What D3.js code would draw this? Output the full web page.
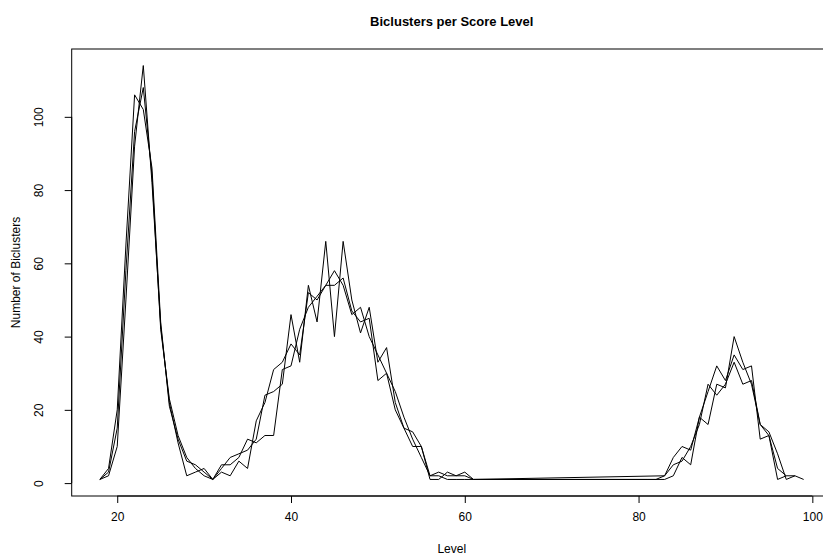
<!DOCTYPE html>
<html lang="en">

<head>
    <meta charset="UTF-8">
    <title>Biclusters per Score Level</title>
    <script src="https://cdn.jsdelivr.net/npm/d3@7"></script>
    <style>
        body {
            margin: 0;
            background: #fff;
        }

        svg text {
            font-family: "Liberation Sans", Arial, sans-serif;
            fill: #000;
        }
    </style>
</head>

<body>
    <script>
        // three runs, values
        const levelsA = [18, 19, 20, 21, 22, 23, 24, 25, 26, 27, 28, 29, 30, 31, 32, 33, 34, 35, 36, 37, 38, 39, 40, 41, 42, 43, 44, 45, 46, 47, 48, 49, 50, 51, 52, 53, 54, 55, 56, 57, 58, 59, 60, 61, 62, 83, 84, 85, 86, 87, 88, 89, 90, 91, 92, 93, 94, 95, 96, 97, 98, 99];
        const countsA = [1, 2, 10, 50, 92, 114, 82, 43, 22, 11, 2, 3, 4, 1, 4, 7, 8, 9, 12, 24, 25, 27, 46, 33, 54, 44, 66, 40, 66, 50, 41, 48, 33, 37, 22, 15, 14, 10, 2, 3, 2, 2, 3, 1, 1, 1, 2, 7, 5, 18, 16, 27, 26, 40, 33, 27, 16, 13, 1, 2, 2, 1];

        const levelsB = [18, 19, 20, 21, 22, 23, 24, 25, 26, 27, 28, 29, 30, 31, 32, 33, 34, 35, 36, 37, 38, 39, 40, 41, 42, 43, 44, 45, 46, 47, 48, 49, 50, 51, 52, 53, 54, 55, 56, 57, 58, 59, 60, 61, 83, 84, 85, 86, 87, 88, 89, 90, 91, 92, 93, 94, 95, 96, 97];
        const countsB = [1, 4, 20, 65, 106, 102, 86, 44, 21, 12, 6, 5, 3, 1, 5, 5, 7, 12, 11, 13, 13, 31, 32, 42, 48, 51, 54, 54, 56, 47, 44, 45, 28, 30, 20, 15, 10, 10, 1, 1, 3, 2, 2, 1, 2, 7, 10, 9, 18, 25, 32, 28, 35, 31, 32, 12, 13, 4, 2];

        const levelsC = [18, 19, 20, 21, 22, 23, 24, 25, 26, 27, 28, 29, 30, 31, 32, 33, 34, 35, 36, 37, 38, 39, 40, 41, 42, 43, 44, 45, 46, 47, 48, 49, 50, 51, 52, 53, 54, 55, 56, 57, 58, 59, 60, 61, 81, 82, 83, 84, 85, 86, 87, 88, 89, 90, 91, 92, 93, 94, 95, 96, 97, 98];
        const countsC = [1, 3, 15, 58, 96, 108, 84, 42, 23, 13, 7, 4, 2, 1, 3, 2, 6, 4, 17, 22, 31, 33, 38, 35, 52, 50, 54, 58, 54, 46, 48, 40, 35, 30, 25, 18, 12, 7, 2, 2, 1, 1, 1, 1, 1, 1, 2, 5, 6, 10, 16, 27, 24, 27, 33, 27, 28, 16, 14, 8, 1, 2];

        const xTicks = [20, 40, 60, 80, 100];
        const yTicks = [0, 20, 40, 60, 80, 100];

        const width = 823;
        const height = 556;
        const plotLeft = 71.7, plotRight = 831.8, plotTop = 49, plotBottom = 496;

        const series = [
            levelsA.map((l, i) => [l, countsA[i]]),
            levelsB.map((l, i) => [l, countsB[i]]),
            levelsC.map((l, i) => [l, countsC[i]])
        ];

        // R style 4% padding around the data range
        const allX = series.flat().map(d => d[0]);
        const allY = series.flat().map(d => d[1]);
        const [x0, x1] = d3.extent(allX);
        const [y0, y1] = d3.extent(allY);
        const padX = (x1 - x0) * 0.04, padY = (y1 - y0) * 0.04;

        const x = d3.scaleLinear().domain([x0 - padX, x1 + padX]).range([plotLeft, plotRight]);
        const y = d3.scaleLinear().domain([y0 - padY, y1 + padY]).range([plotBottom, plotTop]);

        const svg = d3.select("body").append("svg")
            .attr("width", width).attr("height", height);

        const line = d3.line().x(d => x(d[0])).y(d => y(d[1]));

        svg.append("g")
            .selectAll("path")
            .data(series)
            .join("path")
            .attr("d", line)
            .attr("fill", "none")
            .attr("stroke", "#000")
            .attr("stroke-width", 1);

        // box
        svg.append("rect")
            .attr("x", plotLeft).attr("y", plotTop)
            .attr("width", plotRight - plotLeft).attr("height", plotBottom - plotTop)
            .attr("fill", "none").attr("stroke", "#000").attr("stroke-width", 1);

        const xAxis = svg.append("g")
            .attr("transform", `translate(0,${plotBottom})`)
            .call(d3.axisBottom(x).tickValues(xTicks).tickSize(7).tickPadding(9).tickFormat(d3.format("d")));
        xAxis.select(".domain").attr("d", `M${x(20)},0H${x(100)}`);
        xAxis.selectAll("text").attr("font-size", 12).attr("font-family", null);

        const yAxis = svg.append("g")
            .attr("transform", `translate(${plotLeft},0)`)
            .call(d3.axisLeft(y).tickValues(yTicks).tickSize(7).tickFormat(d3.format("d")));
        yAxis.select(".domain").attr("d", `M0,${y(0)}V${y(100)}`);
        // tick groups are already translated to y(d); rotate labels like R's las=0
        yAxis.selectAll("text")
            .attr("font-size", 12).attr("font-family", null)
            .attr("text-anchor", "middle").attr("dy", null).attr("x", null).attr("y", null)
            .attr("transform", "translate(-29,0) rotate(-90)");

        svg.append("text")
            .attr("x", (plotLeft + plotRight) / 2).attr("y", 26)
            .attr("text-anchor", "middle")
            .attr("font-weight", "bold").attr("font-size", 13)
            .text("Biclusters per Score Level");

        svg.append("text")
            .attr("x", (plotLeft + plotRight) / 2).attr("y", 553)
            .attr("text-anchor", "middle").attr("font-size", 12)
            .text("Level");

        svg.append("text")
            .attr("transform", `translate(20,${(plotTop + plotBottom) / 2}) rotate(-90)`)
            .attr("text-anchor", "middle").attr("font-size", 12)
            .text("Number of Biclusters");
    </script>
</body>

</html>
